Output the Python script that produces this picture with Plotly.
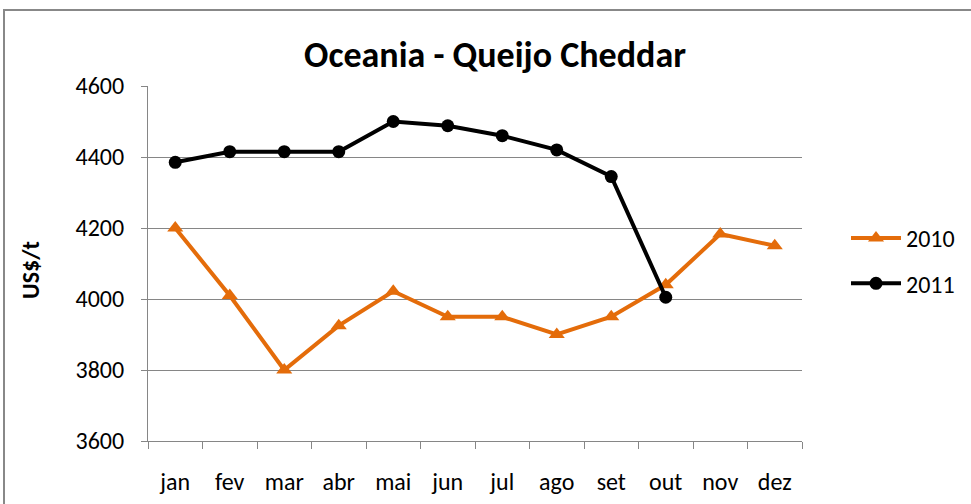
import plotly.graph_objects as go

months = ["jan", "fev", "mar", "abr", "mai", "jun", "jul", "ago", "set", "out", "nov", "dez"]
v2010 = [4200, 4010, 3800, 3925, 4022, 3950, 3950, 3900, 3950, 4040, 4183, 4150]
v2011 = [4385, 4415, 4415, 4415, 4500, 4488, 4460, 4420, 4345, 4005]

FONT = "Carlito, Calibri, 'Liberation Sans Narrow', 'Open Sans', sans-serif"

fig = go.Figure()
fig.add_trace(go.Scatter(
    x=months, y=v2010, name="2010", mode="lines+markers",
    line=dict(color="#E46C0A", width=4),
    marker=dict(symbol="triangle-up", size=14, color="#E46C0A"),
    legendgroup="a",
))
fig.add_trace(go.Scatter(
    x=months[:len(v2011)], y=v2011, name="2011", mode="lines+markers",
    line=dict(color="#000000", width=4),
    marker=dict(symbol="circle", size=13, color="#000000"),
    legendgroup="b",
))

W, H = 971, 504
L, R, T, B = 148, 802, 86, 441

def px(x):
    return (x - L) / (R - L)

def py(y):
    return (B - y) / (B - T)

fig.update_layout(
    width=W, height=H,
    margin=dict(l=L, r=W - R, t=T, b=H - B, autoexpand=False),
    paper_bgcolor="white", plot_bgcolor="white",
    font=dict(family=FONT, size=24, color="black"),
    title=dict(text="<b>Oceania - Queijo Cheddar</b>", x=px(495), xanchor="center",
               xref="paper", y=1 - 54 / H, yanchor="middle", font=dict(size=36)),
    showlegend=True,
    legend=dict(x=px(846), xanchor="left", y=py(261), yanchor="middle",
                font=dict(size=24), tracegroupgap=11, traceorder="grouped",
                itemwidth=50, bgcolor="rgba(0,0,0,0)"),
    xaxis=dict(type="category", range=[-0.5, 11.5], showgrid=False, automargin=False,
               showline=True, linecolor="#868686", linewidth=1,
               ticks="outside", tickson="boundaries", ticklen=7, tickcolor="#868686",
               ticklabelstandoff=19, tickfont=dict(size=24)),
    yaxis=dict(range=[3600, 4600], dtick=200, showgrid=True, gridcolor="#868686",
               gridwidth=1, showline=True, linecolor="#868686", linewidth=1,
               automargin=False,
               ticks="outside", ticklen=6, tickcolor="#868686",
               ticklabelstandoff=12, tickfont=dict(size=24), zeroline=False),
    annotations=[dict(text="<b>US$/t</b>", xref="paper", yref="paper",
                      x=px(30), y=py(270), textangle=-90, showarrow=False,
                      xanchor="center", yanchor="middle", font=dict(size=24))],
    shapes=[dict(type="rect", xref="paper", yref="paper",
                 x0=px(4), x1=px(1100), y0=py(10), y1=py(600),
                 line=dict(color="#888888", width=2), layer="below")],
)

fig.write_html("out.html", config={"displayModeBar": False},
               post_script="document.body.style.margin='0';")
